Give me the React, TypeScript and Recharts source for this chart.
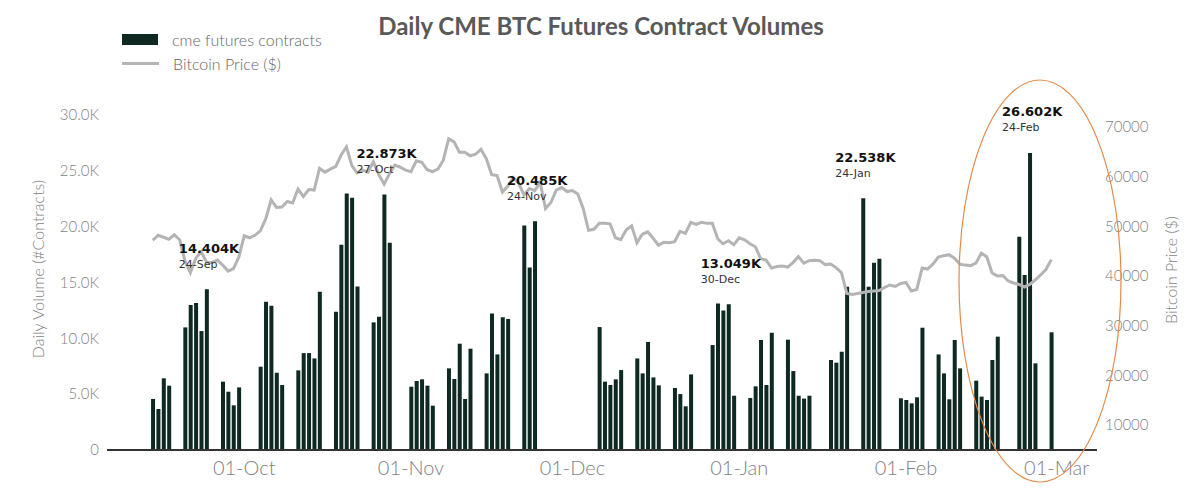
import { ComposedChart, Bar, Line, XAxis, YAxis, Legend, LabelList } from "recharts";

// x axis runs one category per calendar day
const axisStart = "2021-09-06";
const axisDays = 184;

// daily BTC close, one value per calendar day from priceStart
const priceStart = "2021-09-14";
const btcPrice = [
  // Sep 14 - Sep 30
  47200, 48200, 47800, 47400, 48300, 47300, 43000, 40700, 43600, 44900, 42800, 42700, 43200, 42200, 41000, 41500, 43800,
  // Oct
  48100, 47700, 48200, 49100, 51500, 55300, 53800, 53900, 55000, 54700, 57500, 56000, 57400, 57300, 61700, 60900,
  61500, 62000, 64300, 66000, 62200, 60700, 61300, 60900, 63000, 60400, 58500, 60600, 62300, 61900, 61300,
  // Nov
  61000, 63200, 62900, 61400, 61000, 61500, 63300, 67600, 67000, 64900, 64900, 64200, 64500, 65500, 63600,
  60400, 60200, 56900, 58100, 59800, 58700, 56300, 57600, 57200, 58900, 53600, 54800, 57300, 57800, 57000,
  // Dec
  57200, 56500, 53600, 49200, 49400, 50600, 50600, 50500, 47700, 47300, 49300, 50100, 46700, 48400, 48900, 47600,
  46200, 46800, 46700, 46900, 49000, 48600, 50800, 50400, 50800, 50600, 50600, 47500, 46500, 47100, 46300,
  // Jan
  47700, 47300, 46500, 45900, 43500, 43200, 41600, 41900, 42000, 41800, 42700, 43900, 42600, 43100, 43200, 43100,
  42300, 42400, 41700, 40700, 36500, 36300, 36500, 36700, 36900, 37000, 37100, 37700, 38200, 37900, 38500,
  // Feb
  38700, 37000, 37300, 41600, 41400, 42400, 43800, 44100, 44300, 43600, 42400, 42200, 42100, 42600, 44600, 43900,
  40600, 40000, 40100, 39000, 38600, 38300, 37800, 38300, 39200, 40200, 41300, 43300,
];

// CME futures contracts per trading day
const cmeVolume: [string, number][] = [
  ["2021-09-14", 4570], ["2021-09-15", 3670], ["2021-09-16", 6420], ["2021-09-17", 5760],
  ["2021-09-20", 10980], ["2021-09-21", 12980], ["2021-09-22", 13160], ["2021-09-23", 10650], ["2021-09-24", 14404],
  ["2021-09-27", 6120], ["2021-09-28", 5220], ["2021-09-29", 4000], ["2021-09-30", 5610],
  ["2021-10-04", 7460], ["2021-10-05", 13280], ["2021-10-06", 12920], ["2021-10-07", 6920], ["2021-10-08", 5820],
  ["2021-10-11", 7130], ["2021-10-12", 8680], ["2021-10-13", 8680], ["2021-10-14", 8200], ["2021-10-15", 14170],
  ["2021-10-18", 12380], ["2021-10-19", 18380], ["2021-10-20", 22980], ["2021-10-21", 22590], ["2021-10-22", 14650],
  ["2021-10-25", 11430], ["2021-10-26", 11940], ["2021-10-27", 22873], ["2021-10-28", 18560],
  ["2021-11-01", 5670], ["2021-11-02", 6180], ["2021-11-03", 6330], ["2021-11-04", 5760], ["2021-11-05", 3970],
  ["2021-11-08", 7310], ["2021-11-09", 6360], ["2021-11-10", 9520], ["2021-11-11", 4570], ["2021-11-12", 9070],
  ["2021-11-15", 6860], ["2021-11-16", 12230], ["2021-11-17", 8560], ["2021-11-18", 11880], ["2021-11-19", 11730],
  ["2021-11-22", 20110], ["2021-11-23", 16350], ["2021-11-24", 20485],
  ["2021-12-06", 11010], ["2021-12-07", 6120], ["2021-12-08", 5820], ["2021-12-09", 6330], ["2021-12-10", 7160],
  ["2021-12-13", 8200], ["2021-12-14", 6860], ["2021-12-15", 9670], ["2021-12-16", 6500], ["2021-12-17", 5790],
  ["2021-12-20", 5550], ["2021-12-21", 5010], ["2021-12-22", 3910], ["2021-12-23", 6770],
  ["2021-12-27", 9400], ["2021-12-28", 13130], ["2021-12-29", 12500], ["2021-12-30", 13049], ["2021-12-31", 4860],
  ["2022-01-03", 4660], ["2022-01-04", 5700], ["2022-01-05", 9850], ["2022-01-06", 5820], ["2022-01-07", 10500],
  ["2022-01-10", 9880], ["2022-01-11", 7070], ["2022-01-12", 4860], ["2022-01-13", 4600], ["2022-01-14", 4860],
  ["2022-01-18", 8060], ["2022-01-19", 7820], ["2022-01-20", 8800], ["2022-01-21", 14620],
  ["2022-01-24", 22538], ["2022-01-25", 14620], ["2022-01-26", 16770], ["2022-01-27", 17130],
  ["2022-01-31", 4630], ["2022-02-01", 4480], ["2022-02-02", 4180], ["2022-02-03", 4720], ["2022-02-04", 10950],
  ["2022-02-07", 8560], ["2022-02-08", 6860], ["2022-02-09", 4540], ["2022-02-10", 9850], ["2022-02-11", 7310],
  ["2022-02-14", 6210], ["2022-02-15", 4780], ["2022-02-16", 4480], ["2022-02-17", 8060], ["2022-02-18", 10150],
  ["2022-02-22", 19100], ["2022-02-23", 15670], ["2022-02-24", 26602], ["2022-02-25", 7760],
  ["2022-02-28", 10540],
];

const annotatedDays = ["2021-09-24", "2021-10-27", "2021-11-24", "2021-12-30", "2022-01-24", "2022-02-24"];
const monthTicks = ["2021-10-01", "2021-11-01", "2021-12-01", "2022-01-01", "2022-02-01", "2022-03-01"];
const volumeTicks = [0, 5000, 10000, 15000, 20000, 25000, 30000];
const priceTicks = [10000, 20000, 30000, 40000, 50000, 60000, 70000];
const monthNames = ["Jan", "Feb", "Mar", "Apr", "May", "Jun", "Jul", "Aug", "Sep", "Oct", "Nov", "Dec"];

const DAY = 86400000;
const addDays = (iso: string, n: number) =>
  new Date(Date.parse(iso + "T00:00:00Z") + n * DAY).toISOString().slice(0, 10);
const fmtDay = (iso: string) => `${iso.slice(8, 10)}-${monthNames[Number(iso.slice(5, 7)) - 1]}`;

const volumeByDay = new Map(cmeVolume);
const priceOffset = Math.round((Date.parse(priceStart) - Date.parse(axisStart)) / DAY);

const data = Array.from({ length: axisDays }, (_, i) => {
  const date = addDays(axisStart, i);
  const p = i - priceOffset;
  return {
    date,
    volume: volumeByDay.get(date) ?? null,
    price: p >= 0 && p < btcPrice.length ? btcPrice[p] : null,
  };
});

const FONT = "Lato, 'Open Sans', sans-serif";
const GREY = "#7f7f7f";
const BAR = "#0e2822";
const LINE = "#b4b4b4";

const MonthTick = ({ x, y, payload }: any) =>
  monthTicks.includes(payload.value) ? (
    <text x={x} y={y + 17} textAnchor="middle" fill={GREY} fontSize={20} fontFamily={FONT} fontWeight={300}>
      {fmtDay(payload.value)}
    </text>
  ) : (
    <g />
  );

const PeakLabel = (props: any) => {
  const { x, y, width, value } = props;
  if (!annotatedDays.includes(value)) return null;
  const vol = volumeByDay.get(value) ?? 0;
  const left = x + width / 2 - 28;
  return (
    <g>
      <text x={left} y={y - 41} dominantBaseline="central" fontFamily="'DejaVu Sans', sans-serif" fontWeight={700} fontSize={13} fill="#111">
        {(vol / 1000).toFixed(3)}K
      </text>
      <text x={left} y={y - 25} dominantBaseline="central" fontFamily="'DejaVu Sans', sans-serif" fontSize={11} fill="#333">
        {fmtDay(value)}
      </text>
    </g>
  );
};

const LegendBox = () => (
  <div style={{ fontFamily: FONT, fontSize: 16, fontWeight: 300, color: "#666" }}>
    <div style={{ display: "flex", alignItems: "center", height: 24 }}>
      <span style={{ display: "inline-block", width: 36, height: 11, background: BAR, marginRight: 14 }} />
      cme futures contracts
    </div>
    <div style={{ display: "flex", alignItems: "center", height: 24 }}>
      <span style={{ display: "inline-block", width: 37, height: 3, background: LINE, marginRight: 14 }} />
      Bitcoin Price ($)
    </div>
  </div>
);

export default function App() {
  return (
    <div style={{ position: "absolute", left: 0, top: 0, width: 1200, height: 488, background: "#fff" }}>
      <ComposedChart width={1200} height={488} data={data} margin={{ top: 115, right: 0, bottom: 0, left: 0 }}>
        <XAxis
          dataKey="date"
          interval={0}
          tickLine={false}
          axisLine={{ stroke: "#333", strokeWidth: 2 }}
          height={38}
          tick={<MonthTick />}
        />
        <YAxis
          yAxisId="vol"
          orientation="left"
          width={107}
          domain={[0, 30000]}
          ticks={volumeTicks}
          tickFormatter={(v: number) => (v === 0 ? "0" : `${(v / 1000).toFixed(1)}K`)}
          axisLine={false}
          tickLine={false}
          tick={{ fill: GREY, fontSize: 15, fontFamily: FONT, fontWeight: 300 }}
        />
        <YAxis
          yAxisId="btc"
          orientation="right"
          width={103}
          domain={[5000, 72400]}
          ticks={priceTicks}
          allowDataOverflow
          axisLine={false}
          tickLine={false}
          tick={{ fill: GREY, fontSize: 15, fontFamily: FONT, fontWeight: 300 }}
        />
        <Legend
          layout="vertical"
          align="center"
          verticalAlign="middle"
          content={<LegendBox />}
          wrapperStyle={{ position: "absolute", left: 122, top: 27, width: 240 }}
        />
        <Bar dataKey="volume" yAxisId="vol" fill={BAR} barSize={4} isAnimationActive={false}>
          <LabelList dataKey="date" content={<PeakLabel />} />
        </Bar>
        <Line
          dataKey="price"
          yAxisId="btc"
          type="linear"
          stroke={LINE}
          strokeWidth={3}
          dot={false}
          activeDot={false}
          isAnimationActive={false}
        />
      </ComposedChart>
      <svg width={1200} height={488} style={{ position: "absolute", left: 0, top: 0, pointerEvents: "none" }}>
        <text x={601} y={35} textAnchor="middle" fontFamily={FONT} fontWeight={700} fontSize={24} fill="#595959">
          Daily CME BTC Futures Contract Volumes
        </text>
        <text
          x={37}
          y={269}
          transform="rotate(-90 37 269)"
          textAnchor="middle"
          dominantBaseline="central"
          fontFamily={FONT}
          fontWeight={300}
          fontSize={16}
          fill={GREY}
        >
          Daily Volume (#Contracts)
        </text>
        <text
          x={1170}
          y={270}
          transform="rotate(-90 1170 270)"
          textAnchor="middle"
          dominantBaseline="central"
          fontFamily={FONT}
          fontWeight={300}
          fontSize={16}
          fill={GREY}
        >
          Bitcoin Price ($)
        </text>
        <ellipse cx={1040} cy={281} rx={81} ry={201} fill="none" stroke="#e38a4a" strokeWidth={1.2} />
      </svg>
    </div>
  );
}
